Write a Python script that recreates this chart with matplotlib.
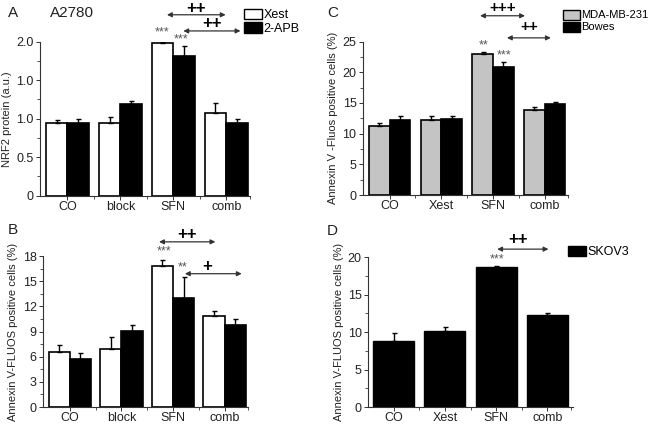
import matplotlib
matplotlib.use("Agg")
import matplotlib.pyplot as plt
from matplotlib.patches import Patch
from matplotlib.ticker import FixedLocator, MultipleLocator
import numpy as np

plt.rcParams['font.family'] = ['Liberation Sans', 'DejaVu Sans']

# ---------------- data ----------------
cats_A = ["CO", "block", "SFN", "comb"]
A_xest = [0.95, 0.94, 1.98, 1.07]
A_xest_err = [0.03, 0.08, 0.02, 0.13]
A_apb = [0.94, 1.19, 1.81, 0.94]
A_apb_err = [0.05, 0.04, 0.14, 0.05]
A_yticks = [0, 0.5, 1.0, 1.5, 2.0]
A_yticklabels = ["0", "0.5", "1.0", "1.0", "2.0"]

cats_B = ["CO", "block", "SFN", "comb"]
B_xest = [6.6, 6.9, 16.8, 10.9]
B_xest_err = [0.8, 1.4, 0.7, 0.6]
B_apb = [5.7, 9.1, 13.0, 9.8]
B_apb_err = [0.7, 0.7, 2.5, 0.7]
B_yticks = [0, 3, 6, 9, 12, 15, 18]

cats_C = ["CO", "Xest", "SFN", "comb"]
C_mda = [11.2, 12.2, 22.9, 13.9]
C_mda_err = [0.6, 0.7, 0.4, 0.5]
C_bowes = [12.2, 12.4, 20.9, 14.8]
C_bowes_err = [0.7, 0.4, 0.8, 0.4]
C_yticks = [0, 5, 10, 15, 20, 25]

cats_D = ["CO", "Xest", "SFN", "comb"]
D_skov = [8.8, 10.2, 18.7, 12.3]
D_skov_err = [1.1, 0.5, 0.2, 0.3]
D_yticks = [0, 5, 10, 15, 20]

TXT = '#222222'
GRAY = '#c4c4c4'
STAR = '#555555'

fig = plt.figure(figsize=(6.49, 4.24), dpi=100)

def style_ax(ax, yticks, yticklabels, cats, ylabel):
    for s in ['top', 'right']:
        ax.spines[s].set_visible(False)
    for s in ['left', 'bottom']:
        ax.spines[s].set_linewidth(0.8)
        ax.spines[s].set_color('#333333')
    ax.set_xlim(-0.52, 3.45)
    ax.set_ylim(yticks[0], yticks[-1])
    ax.set_yticks(yticks)
    ax.set_yticklabels(yticklabels, fontsize=9, color=TXT)
    step = yticks[1] - yticks[0]
    ax.yaxis.set_minor_locator(MultipleLocator(step / 2))
    ax.set_xticks(range(len(cats)))
    ax.set_xticklabels(cats, fontsize=9, color=TXT)
    ax.xaxis.set_minor_locator(FixedLocator([0.5, 1.5, 2.5, 3.45]))
    ax.tick_params(axis='both', which='major', direction='out', length=3, width=0.7, pad=1.5, colors='#333333')
    ax.tick_params(axis='x', which='major', pad=0.5)
    ax.tick_params(axis='both', which='minor', direction='out', length=2, width=0.6, colors='#333333')
    for lab in ax.get_xticklabels() + ax.get_yticklabels():
        lab.set_color(TXT)
    ax.set_ylabel(ylabel, fontsize=8, color=TXT, labelpad=3)

def grouped(ax, v1, e1, c1, v2, e2, c2, w=0.41):
    x = np.arange(len(v1))
    ek = dict(ecolor='black', elinewidth=1.0, capsize=1.8, capthick=1.0)
    ax.bar(x - w / 2, v1, w, color=c1, edgecolor='black', linewidth=1.2,
           yerr=[np.zeros(len(e1)), e1], error_kw=ek, zorder=2)
    ax.bar(x + w / 2, v2, w, color=c2, edgecolor='black', linewidth=1.2,
           yerr=[np.zeros(len(e2)), e2], error_kw=ek, zorder=2)

def arrow(ax, x0, x1, y):
    ax.annotate('', xy=(x1, y), xytext=(x0, y), xycoords='data',
                arrowprops=dict(arrowstyle='<|-|>', color='#333333', lw=0.9,
                                mutation_scale=7, shrinkA=0, shrinkB=0),
                annotation_clip=False)

def txt(ax, x, y, s, size=11, color='black', weight='normal'):
    ax.text(x, y, s, ha='center', va='center', fontsize=size, color=color,
            fontweight=weight, clip_on=False)

# ---------------- Panel A ----------------
axA = fig.add_axes([0.0616, 0.5384, 0.3236, 0.3632])
grouped(axA, A_xest, A_xest_err, 'white', A_apb, A_apb_err, 'black')
style_ax(axA, A_yticks, A_yticklabels, cats_A, "NRF2 protein (a.u.)")
arrow(axA, 1.88, 2.99, 2.35)
txt(axA, 2.43, 2.43, "++", 12, 'black', 'bold')
arrow(axA, 2.19, 3.27, 2.14)
txt(axA, 2.73, 2.24, "++", 12, 'black', 'bold')
txt(axA, 1.79, 2.12, "***", 9, STAR)
txt(axA, 2.14, 2.03, "***", 9, STAR)
fig.text(8 / 649, 1 - 13 / 424, "A", fontsize=11, color=TXT, va='center')
fig.text(50 / 649, 1 - 13 / 424, "A2780", fontsize=11, color=TXT, va='center')
fig.legend(handles=[Patch(facecolor='white', edgecolor='black', lw=1.0),
                    Patch(facecolor='black', edgecolor='black', lw=1.0)],
           labels=["Xest", "2-APB"], loc='upper left',
           bbox_to_anchor=(236 / 649, 1 - 1 / 424), frameon=False,
           fontsize=9, handlelength=1.5, handleheight=0.9,
           handletextpad=0.1, labelspacing=0.1, borderpad=0.1)

# ---------------- Panel B ----------------
axB = fig.add_axes([0.066, 0.040, 0.316, 0.356])
grouped(axB, B_xest, B_xest_err, 'white', B_apb, B_apb_err, 'black')
style_ax(axB, B_yticks, [str(t) for t in B_yticks], cats_B,
         "Annexin V-FLUOS positive cells (%)")
arrow(axB, 1.73, 2.82, 19.7)
txt(axB, 2.28, 20.6, "++", 12, 'black', 'bold')
arrow(axB, 2.23, 3.33, 15.9)
txt(axB, 2.66, 16.8, "+", 12, 'black', 'bold')
txt(axB, 1.83, 18.6, "***", 9, STAR)
txt(axB, 2.19, 16.6, "**", 9, STAR)
fig.text(8 / 649, 1 - 230 / 424, "B", fontsize=11, color=TXT, va='center')

# ---------------- Panel C ----------------
axC = fig.add_axes([0.559, 0.540, 0.316, 0.362])
grouped(axC, C_mda, C_mda_err, GRAY, C_bowes, C_bowes_err, 'black', w=0.40)
style_ax(axC, C_yticks, [str(t) for t in C_yticks], cats_C,
         "Annexin V -Fluos positive cells (%)")
arrow(axC, 1.75, 2.62, 29.2)
txt(axC, 2.19, 30.5, "+++", 11, 'black', 'bold')
arrow(axC, 2.27, 3.12, 25.6)
txt(axC, 2.71, 27.3, "++", 11, 'black', 'bold')
txt(axC, 1.81, 24.3, "**", 9, STAR)
txt(axC, 2.21, 22.7, "***", 9, STAR)
fig.text(327 / 649, 1 - 13 / 424, "C", fontsize=11, color=TXT, va='center')
fig.legend(handles=[Patch(facecolor=GRAY, edgecolor='black', lw=1.0),
                    Patch(facecolor='black', edgecolor='black', lw=1.0)],
           labels=["MDA-MB-231", "Bowes"], loc='upper left',
           bbox_to_anchor=(556 / 649, 1 - 3 / 424), frameon=False,
           fontsize=8, handlelength=1.6, handleheight=1.0,
           handletextpad=0.05, labelspacing=0.1, borderpad=0.1)

# ---------------- Panel D ----------------
axD = fig.add_axes([0.567, 0.040, 0.316, 0.353])
xD = np.arange(len(D_skov))
axD.bar(xD, D_skov, 0.80, color='black', edgecolor='black', linewidth=1.0,
        yerr=[np.zeros(len(D_skov_err)), D_skov_err],
        error_kw=dict(ecolor='black', elinewidth=1.0, capsize=1.8, capthick=1.0), zorder=2)
style_ax(axD, D_yticks, [str(t) for t in D_yticks], cats_D,
         "Annexin V-FLUOS positive cells (%)")
axD.set_xlim(-0.5, 3.5)
arrow(axD, 2.02, 3.02, 21.1)
txt(axD, 2.42, 22.4, "++", 12, 'black', 'bold')
txt(axD, 2.02, 19.7, "***", 9, STAR)
fig.text(327 / 649, 1 - 231 / 424, "D", fontsize=11, color=TXT, va='center')
fig.legend(handles=[Patch(facecolor='black', edgecolor='black', lw=1.0)],
           labels=["SKOV3"], loc='upper left',
           bbox_to_anchor=(560 / 649, 1 - 238 / 424), frameon=False,
           fontsize=9, handlelength=1.5, handleheight=0.9,
           handletextpad=0.1, borderpad=0.1)

fig.savefig("out.png", dpi=100)
